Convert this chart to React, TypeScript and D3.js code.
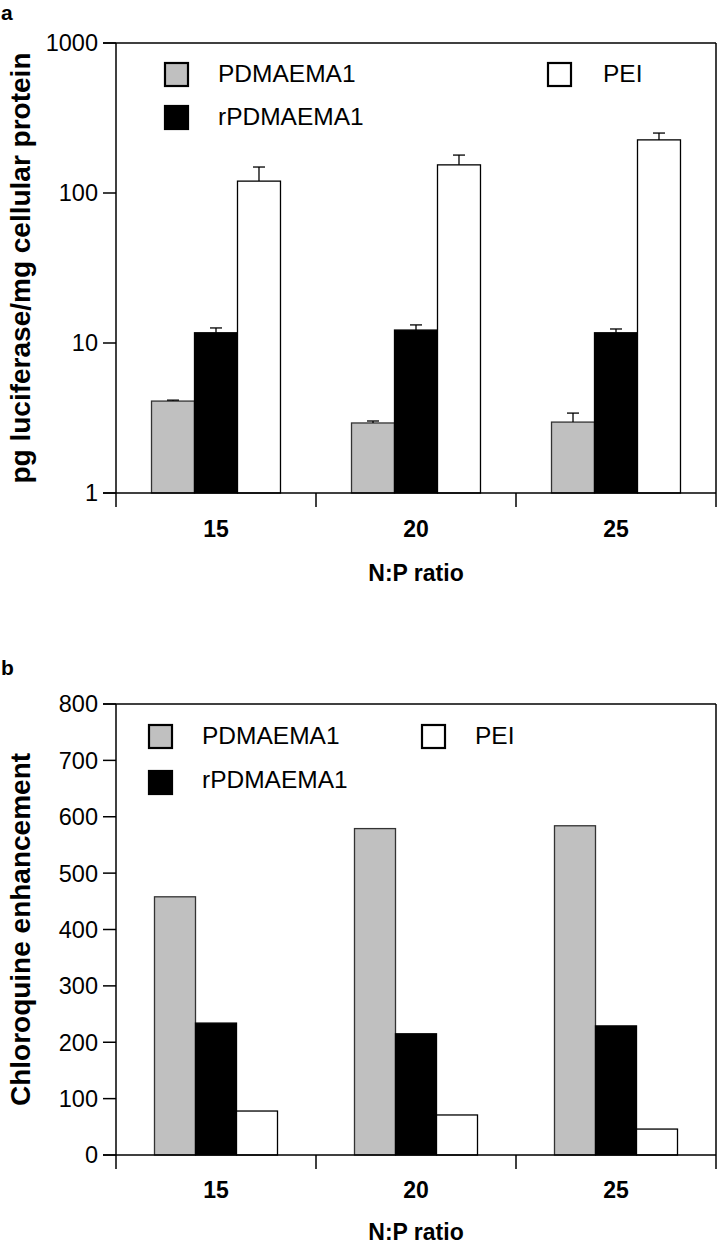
import React from "react";
import * as d3 from "d3";

const categories = ["15", "20", "25"];
const seriesNames = ["PDMAEMA1", "rPDMAEMA1", "PEI"];
const seriesFill = ["#c0c0c0", "#000000", "#ffffff"];
const seriesStroke = ["#333333", "#000000", "#000000"];

// Panel a (log scale) values and upper error
const aPDMAEMA1 = [4.1, 2.93, 2.97];
const aPDMAEMA1Err = [0.06, 0.09, 0.44];
const arPDMAEMA1 = [11.7, 12.2, 11.7];
const arPDMAEMA1Err = [0.9, 1.0, 0.7];
const aPEI = [120, 154, 226];
const aPEIErr = [29, 25, 25];
const aTicks = [1, 10, 100, 1000];

// Panel b values
const bPDMAEMA1 = [458, 579, 584];
const brPDMAEMA1 = [234, 215, 229];
const bPEI = [78, 71, 46];
const bTicks = [0, 100, 200, 300, 400, 500, 600, 700, 800];

const FONT = "'Liberation Sans', Arial, Helvetica, sans-serif";

type PanelProps = {
  label: string;
  top: number;
  bottom: number;
  yScale: any;
  ticks: number[];
  values: number[][];
  errors?: number[][];
  groupPad: number;
  yTitle: string;
  legend: { sqX: number[]; sqY: number[]; sqSize: number; textX: number[]; textY: number[] };
  labelY: number;
  catLabelY: number;
  xTitleY: number;
};

const L = 116;
const R = 716;

function Panel(p: PanelProps) {
  const x0 = d3.scaleBand<string>().domain(categories).range([L, R]).paddingInner(0).paddingOuter(0);
  const x1 = d3
    .scaleBand<string>()
    .domain(seriesNames)
    .range([0, x0.bandwidth()])
    .paddingInner(0)
    .paddingOuter(p.groupPad);
  const y = p.yScale;
  const y0 = p.bottom;
  const bw = x1.bandwidth();
  return (
    <g>
      <text x={1} y={p.labelY} fontFamily={FONT} fontWeight="bold" fontSize={21}>
        {p.label}
      </text>
      {/* bars */}
      {seriesNames.map((s, si) =>
        categories.map((c, ci) => {
          const v = p.values[si][ci];
          const bx = (x0(c) as number) + (x1(s) as number);
          const by = y(v);
          return (
            <rect
              key={s + c}
              x={bx}
              y={by}
              width={bw}
              height={y0 - by}
              fill={seriesFill[si]}
              stroke={seriesStroke[si]}
              strokeWidth={1.3}
            />
          );
        })
      )}
      {/* error bars */}
      {p.errors &&
        seriesNames.map((s, si) =>
          categories.map((c, ci) => {
            const v = p.values[si][ci];
            const e = p.errors![si][ci];
            const cx = (x0(c) as number) + (x1(s) as number) + bw / 2;
            const yt = y(v + e);
            return (
              <g key={"e" + s + c} stroke="#000" strokeWidth={1.3}>
                <line x1={cx} x2={cx} y1={y(v)} y2={yt} />
                <line x1={cx - 6} x2={cx + 6} y1={yt} y2={yt} />
              </g>
            );
          })
        )}
      {/* frame */}
      <g stroke="#000" strokeWidth={1.5} fill="none">
        <line x1={L} x2={L} y1={p.top} y2={y0 + 14} />
        <line x1={L - 13} x2={R} y1={p.top} y2={p.top} />
        <line x1={R} x2={R} y1={p.top} y2={y0 + 14} />
        <line x1={L - 13} x2={R} y1={y0} y2={y0} />
        {categories.slice(1).map((c) => (
          <line key={"xt" + c} x1={x0(c) as number} x2={x0(c) as number} y1={y0} y2={y0 + 14} />
        ))}
        {p.ticks.map((t) => (
          <line key={"yt" + t} x1={L - 13} x2={L} y1={y(t)} y2={y(t)} />
        ))}
      </g>
      {/* y tick labels */}
      {p.ticks.map((t) => (
        <text
          key={"yl" + t}
          x={98}
          y={y(t)}
          dy="0.36em"
          textAnchor="end"
          fontFamily={FONT}
          fontSize={23.5}
        >
          {t}
        </text>
      ))}
      {/* category labels */}
      {categories.map((c) => (
        <text
          key={"cl" + c}
          x={(x0(c) as number) + x0.bandwidth() / 2}
          y={p.catLabelY}
          textAnchor="middle"
          fontFamily={FONT}
          fontWeight="bold"
          fontSize={23}
        >
          {c}
        </text>
      ))}
      <text x={(L + R) / 2} y={p.xTitleY} textAnchor="middle" fontFamily={FONT} fontWeight="bold" fontSize={23}>
        N:P ratio
      </text>
      <text
        transform={`translate(30, ${(p.top + y0) / 2}) rotate(-90)`}
        textAnchor="middle"
        fontFamily={FONT}
        fontWeight="bold"
        fontSize={28}
      >
        {p.yTitle}
      </text>
      {/* legend */}
      {seriesNames.map((s, si) => (
        <g key={"lg" + s}>
          <rect
            x={p.legend.sqX[si]}
            y={p.legend.sqY[si]}
            width={p.legend.sqSize}
            height={p.legend.sqSize}
            fill={seriesFill[si]}
            stroke="#000"
            strokeWidth={2.2}
          />
          <text x={p.legend.textX[si]} y={p.legend.textY[si]} fontFamily={FONT} fontSize={24.5}>
            {s}
          </text>
        </g>
      ))}
    </g>
  );
}

export default function App() {
  const aTop = 43;
  const aBottom = 493;
  const yA = d3.scaleLog().domain([1, 1000]).range([aBottom, aTop]);
  const bTop = 704;
  const bBottom = 1155;
  const yB = d3.scaleLinear().domain([0, 800]).range([bBottom, bTop]);
  return (
    <svg
      width={718}
      height={1244}
      style={{ position: "absolute", left: 0, top: 0, background: "#fff" }}
    >
      <rect x={0} y={0} width={718} height={1244} fill="#fff" />
      <Panel
        label="a"
        top={aTop}
        bottom={aBottom}
        yScale={yA}
        ticks={aTicks}
        values={[aPDMAEMA1, arPDMAEMA1, aPEI]}
        errors={[aPDMAEMA1Err, arPDMAEMA1Err, aPEIErr]}
        groupPad={0.826}
        yTitle="pg luciferase/mg cellular protein"
        legend={{
          sqX: [165, 165, 548],
          sqY: [63, 106, 63],
          sqSize: 23,
          textX: [218, 218, 603],
          textY: [82, 125, 82],
        }}
        labelY={20}
        catLabelY={537}
        xTitleY={581}
      />
      <Panel
        label="b"
        top={bTop}
        bottom={bBottom}
        yScale={yB}
        ticks={bTicks}
        values={[bPDMAEMA1, brPDMAEMA1, bPEI]}
        groupPad={0.939}
        yTitle="Chloroquine enhancement"
        legend={{
          sqX: [149, 149, 422],
          sqY: [725, 771, 725],
          sqSize: 23,
          textX: [202, 202, 475],
          textY: [744, 788, 744],
        }}
        labelY={675}
        catLabelY={1198}
        xTitleY={1240}
      />
    </svg>
  );
}
